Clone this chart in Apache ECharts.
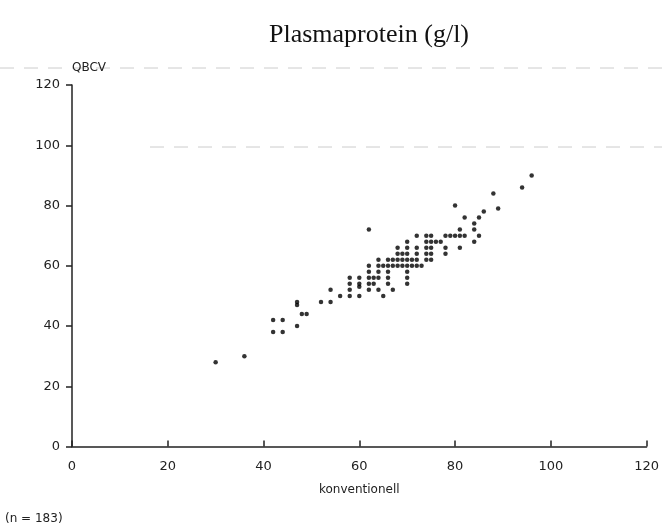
<!DOCTYPE html>
<html>
<head>
<meta charset="utf-8">
<script src="https://cdn.jsdelivr.net/npm/echarts@6/dist/echarts.min.js"></script>
<style>html,body{margin:0;padding:0;background:#fff;}#c{width:662px;height:527px;}</style>
</head>
<body>
<div id="c"></div>
<script>
// Axis ticks (both axes)
const axisTicks = [0, 20, 40, 60, 80, 100, 120];
// x = konventionell, y = QBCV
const konventionell = [
  30, 36, 42, 44, 42, 44, 47, 47, 47, 48, 49, 52, 54, 54, 56,
  58, 60, 65,
  58, 62, 64, 67,
  60,
  58, 60, 62, 63, 66, 70,
  58, 60, 62, 63, 64, 66, 70,
  62, 64, 66, 70,
  62, 64, 65, 66, 67, 68, 69, 70, 71, 72, 73,
  64, 66, 67, 68, 69, 70, 71, 72, 74, 75,
  68, 69, 70, 72, 74, 75, 78,
  68, 70, 72, 74, 75, 78, 81,
  70, 74, 75, 76, 77, 84,
  72, 74, 75, 78, 79, 80, 81, 82, 85,
  62, 81, 84,
  84,
  82, 85,
  86,
  89,
  80,
  88,
  94,
  96
];
const qbcv = [
  28, 30, 42, 42, 38, 38, 40, 48, 47, 44, 44, 48, 48, 52, 50,
  50, 50, 50,
  52, 52, 52, 52,
  53,
  54, 54, 54, 54, 54, 54,
  56, 56, 56, 56, 56, 56, 56,
  58, 58, 58, 58,
  60, 60, 60, 60, 60, 60, 60, 60, 60, 60, 60,
  62, 62, 62, 62, 62, 62, 62, 62, 62, 62,
  64, 64, 64, 64, 64, 64, 64,
  66, 66, 66, 66, 66, 66, 66,
  68, 68, 68, 68, 68, 68,
  70, 70, 70, 70, 70, 70, 70, 70, 70,
  72, 72, 72,
  74,
  76, 76,
  78,
  79,
  80,
  84,
  86,
  90
];
const titleText = 'Plasmaprotein (g/l)';
const nText = '(n = 183)';

const points = konventionell.map((x, i) => [x, qbcv[i]]);
const axisMin = axisTicks[0];
const axisMax = axisTicks[axisTicks.length - 1];
const axisStep = axisTicks[1] - axisTicks[0];

const chart = echarts.init(document.getElementById('c'), null, {renderer: 'canvas'});
const axisColor = '#222';
const fontFam = 'DejaVu Sans, Liberation Sans, sans-serif';
chart.setOption({
  animation: false,
  backgroundColor: '#fff',
  title: [
    {text: titleText, left: 364, top: 17, textAlign: 'center',
     textStyle: {fontFamily: 'Liberation Serif, Times New Roman, serif', fontSize: 26, fontWeight: 'normal', color: '#111'}},
    {text: nText, left: 0, top: 508,
     textStyle: {fontFamily: fontFam, fontSize: 12, fontWeight: 'normal', color: '#222'}}
  ],
  grid: {left: 72, right: 14, top: 85, bottom: 80.5, containLabel: false},
  xAxis: {
    type: 'value', min: axisMin, max: axisMax, interval: axisStep,
    name: 'konventionell', nameLocation: 'middle', nameGap: 37,
    nameTextStyle: {fontFamily: fontFam, fontSize: 12, color: '#222'},
    axisLine: {show: true, lineStyle: {color: axisColor, width: 1.5}},
    axisTick: {show: true, inside: true, length: 6, lineStyle: {color: axisColor, width: 1.5}},
    axisLabel: {margin: 14, fontFamily: fontFam, fontSize: 13, color: '#222'},
    splitLine: {show: false}
  },
  yAxis: {
    type: 'value', min: axisMin, max: axisMax, interval: axisStep,
    name: 'QBCV', nameLocation: 'end', nameGap: 11,
    nameTextStyle: {fontFamily: fontFam, fontSize: 12, color: '#222', align: 'left'},
    axisLine: {show: true, lineStyle: {color: axisColor, width: 1.5}},
    axisTick: {show: true, inside: false, length: 6, lineStyle: {color: axisColor, width: 1.5}},
    axisLabel: {margin: 12, fontFamily: fontFam, fontSize: 13, color: '#222'},
    splitLine: {show: false}
  },
  graphic: [
    {type: 'line', shape: {x1: 0, y1: 68, x2: 662, y2: 68}, silent: true,
     style: {stroke: '#cccccc', lineWidth: 1, lineDash: [14, 10]}},
    {type: 'line', shape: {x1: 150, y1: 147, x2: 662, y2: 147}, silent: true,
     style: {stroke: '#cccccc', lineWidth: 1, lineDash: [14, 10]}}
  ],
  series: [{
    type: 'scatter',
    data: points,
    symbol: 'circle',
    symbolSize: 4.5,
    itemStyle: {color: '#000'}
  }]
});
</script>
</body>
</html>
